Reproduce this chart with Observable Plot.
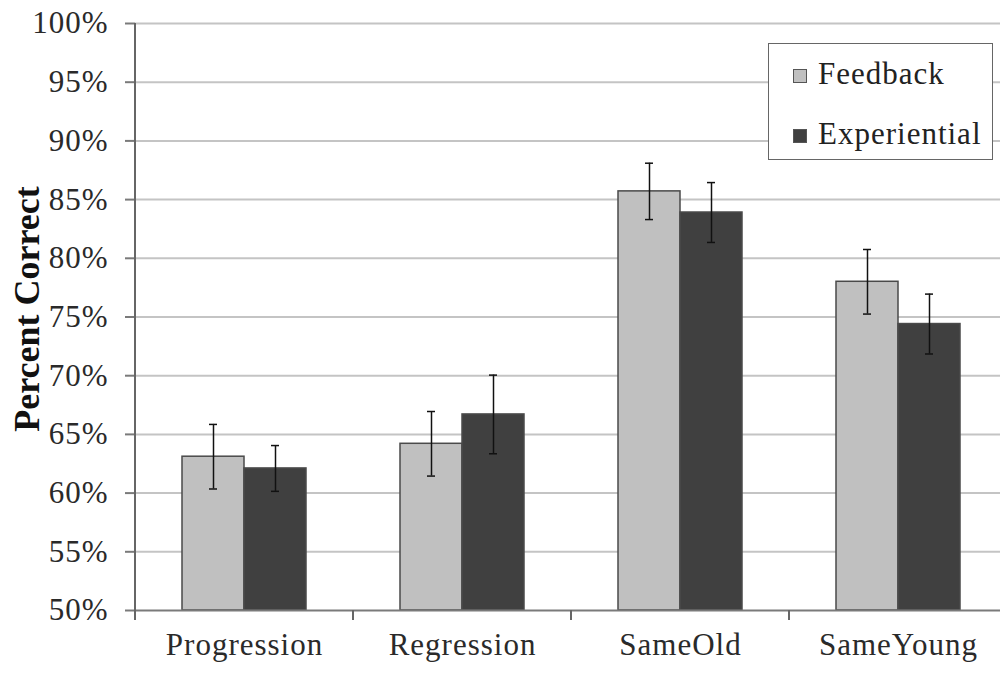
<!DOCTYPE html>
<html>
<head>
<meta charset="utf-8">
<script src="https://cdn.jsdelivr.net/npm/d3@7"></script>
<script src="https://cdn.jsdelivr.net/npm/@observablehq/plot@0.6"></script>
<style>
  html, body { margin: 0; padding: 0; background: #fff; overflow: hidden; }
  #chart { position: relative; width: 1000px; height: 673px; }
  #chart svg { display: block; }
  #chart svg text { font-family: "Liberation Serif", serif; }
  #chart svg g[aria-label="y-axis tick label"] text,
  #chart svg g[aria-label="fx-axis tick label"] text { letter-spacing: 1px; }
  #chart svg g[aria-label="y-axis label"] text { font-weight: bold; font-size: 36px; fill: #111; letter-spacing: 0; }
  #legend {
    position: absolute; left: 768px; top: 43px; width: 225px; height: 117px;
    box-sizing: border-box; border: 1.5px solid #666; background: #fff;
    font-family: "Liberation Serif", serif; font-size: 31px; color: #222;
    letter-spacing: 1px; padding-left: 24px;
  }
  #legend .row { display: flex; align-items: center; height: 60px; line-height: 60px; }
  #legend .sw { display: inline-block; width: 14px; height: 14px; box-sizing: border-box;
    border: 1.5px solid #555; margin-right: 11px; margin-top: 4px; }
</style>
</head>
<body>
<div id="chart"></div>
<script>
// Percent correct by trial type, for the two training conditions
const categories = ["Progression", "Regression", "SameOld", "SameYoung"];
const series = ["Feedback", "Experiential"];
const feedback = [63.1, 64.2, 85.7, 78.0];
const feedbackErr = [2.75, 2.75, 2.4, 2.75];
const experiential = [62.1, 66.7, 83.9, 74.4];
const experientialErr = [1.95, 3.35, 2.55, 2.55];
const yTicks = [50, 55, 60, 65, 70, 75, 80, 85, 90, 95, 100];
const colors = ["#c0c0c0", "#404040"];

const rows = categories.flatMap((c, i) => [
  {category: c, series: series[0], value: feedback[i], err: feedbackErr[i]},
  {category: c, series: series[1], value: experiential[i], err: experientialErr[i]}
]);

const axisGray = "#7a7a7a";

const chart = Plot.plot({
  width: 1000,
  height: 673,
  marginTop: 23,
  marginBottom: 63,
  marginLeft: 133,
  marginRight: 0,
  style: {fontFamily: "'Liberation Serif', serif", fontSize: "31px", color: "#2a2a2a", background: "#fff"},
  fx: {domain: categories, range: [133, 1008], padding: 0, label: null},
  x: {domain: series, paddingInner: 0, paddingOuter: 0.75, axis: null},
  y: {domain: [50, 100]},
  color: {domain: series, range: colors},
  marks: [
    // horizontal gridlines
    Plot.ruleY(yTicks.slice(1), {stroke: "#c4c4c4", strokeWidth: 2}),
    // bars
    Plot.barY(rows, {fx: "category", x: "series", y1: 50, y2: "value", fill: "series",
      stroke: "#4a4a4a", strokeWidth: 1.5}),
    // baseline
    Plot.ruleY([50], {stroke: axisGray, strokeWidth: 2}),
    // error bars with caps
    Plot.ruleX(rows, {fx: "category", x: "series", y1: d => d.value - d.err, y2: d => d.value + d.err,
      stroke: "#111", strokeWidth: 1.5}),
    Plot.tickY(rows, {fx: "category", x: "series", y: d => d.value + d.err,
      insetLeft: 27, insetRight: 27, stroke: "#111", strokeWidth: 1.5}),
    Plot.tickY(rows, {fx: "category", x: "series", y: d => d.value - d.err,
      insetLeft: 27, insetRight: 27, stroke: "#111", strokeWidth: 1.5}),
    Plot.axisY({ticks: yTicks, tickFormat: d => d + "%", tickSize: 10, tickPadding: 17,
      stroke: axisGray, strokeWidth: 2, label: "Percent Correct", labelAnchor: "center",
      labelArrow: "none", labelOffset: 122}),
    Plot.axisFx({anchor: "bottom", tickSize: 0, tickPadding: 22, label: null})
  ]
});

document.getElementById("chart").append(chart);

const svg = d3.select(chart);
// nudge the rotated axis title a little upward
svg.select('g[aria-label="y-axis label"] text').attr("dx", 8);

// vertical axis line and the group separator ticks below the baseline
const fx = chart.scale("fx");
const y = chart.scale("y");
const edges = categories.map(c => fx.apply(c)).concat([fx.apply(categories[categories.length - 1]) + fx.bandwidth]);
const y0 = y.apply(50);
svg.append("g")
  .selectAll("line")
  .data(edges)
  .join("line")
  .attr("x1", d => d).attr("x2", d => d)
  .attr("y1", (d, i) => i === 0 ? y.apply(100) : y0)
  .attr("y2", y0 + 10)
  .attr("stroke", "#666")
  .attr("stroke-width", 2);

// legend box
const legend = d3.select("#chart").append("div").attr("id", "legend");
series.forEach((s, i) => {
  const row = legend.append("div").attr("class", "row");
  row.append("span").attr("class", "sw").style("background", colors[i]);
  row.append("span").text(s);
});
</script>
</body>
</html>
